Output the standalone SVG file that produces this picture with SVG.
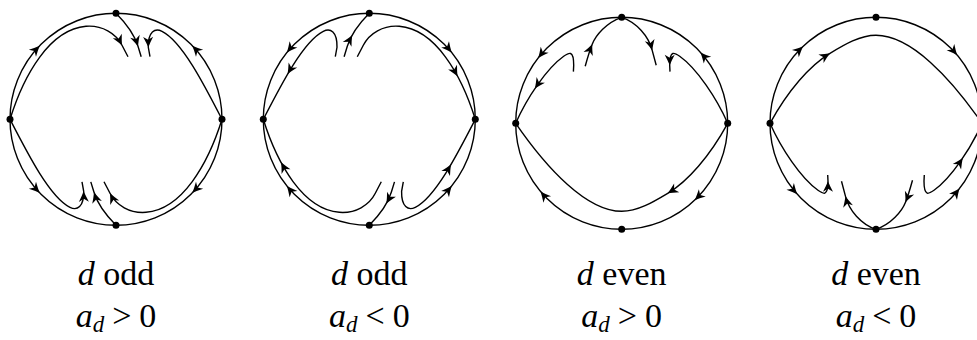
<svg xmlns="http://www.w3.org/2000/svg" xmlns:xlink="http://www.w3.org/1999/xlink" width="977" height="340" viewBox="0 0 977 340">
<style>
.ln{fill:none;stroke:#000;stroke-width:1.4}
.dot{fill:#000}
.lbl{font-family:"Liberation Serif","DejaVu Serif",serif;font-size:34px;fill:#000;text-anchor:middle}
.it{font-style:italic}
</style>
<defs>
<path id="ah" d="M0,0 Q-4.5,-1.8 -10.5,-5 L-7.5,0 L-10.5,5 Q-4.5,1.8 0,0 Z" fill="#000"/>
<g id="c1curves" class="ln">
<path d="M-106 0C-92 -45 -66 -90 -30 -93C-14 -94.3 0 -86 6 -74L12 -62.5"/>
<path d="M0 -106C9 -97 18 -86 22 -73L25.2 -62.6"/>
<path d="M106 0C88 -35 66 -78 46 -88C39 -91.5 32 -88 32.3 -72L34 -62.6"/>
</g>
<g id="c1top">
<use xlink:href="#c1curves" href="#c1curves"/>
<use xlink:href="#ah" href="#ah" transform="translate(6 -74) rotate(63.4)"/>
<use xlink:href="#ah" href="#ah" transform="translate(22 -73) rotate(73)"/>
<use xlink:href="#ah" href="#ah" transform="translate(32.3 -72) rotate(89)"/>
<use xlink:href="#ah" href="#ah" transform="translate(-76.3 -73.6) rotate(-46)"/>
<use xlink:href="#ah" href="#ah" transform="translate(76.3 -73.6) rotate(-134)"/>
</g>
<g id="c2top">
<use xlink:href="#c1curves" href="#c1curves" transform="scale(-1 1)"/>
<use xlink:href="#ah" href="#ah" transform="translate(-81.7 -45.2) rotate(120.5)"/>
<use xlink:href="#ah" href="#ah" transform="translate(-17.1 -84.1) rotate(-61)"/>
<use xlink:href="#ah" href="#ah" transform="translate(88.2 -43) rotate(62)"/>
<use xlink:href="#ah" href="#ah" transform="translate(-82.4 -66.7) rotate(129)"/>
<use xlink:href="#ah" href="#ah" transform="translate(82.4 -66.7) rotate(51)"/>
</g>
<g id="c3">
<g class="ln">
<path d="M-106 0C-95 -25 -75 -55 -58 -67C-53 -70.5 -48 -74 -48 -58L-48.3 -51.7"/>
<path d="M-36.5 -57C-34 -66 -32 -73 -29.5 -79C-26 -88 -15 -101 0 -106"/>
<path d="M0 -106C15 -101 27 -87 30.5 -73L34.5 -58"/>
<path d="M106 0C95 -25 75 -55 58 -67C53 -70.5 48 -74 48 -58L48.3 -51.7"/>
<path d="M106 0C88 33 66 58 46 70C31 79 16 88 0 88C-35 88 -75 45 -106 0"/>
</g>
<use xlink:href="#ah" href="#ah" transform="translate(-86.8 -34.7) rotate(124)"/>
<use xlink:href="#ah" href="#ah" transform="translate(-29.5 -79) rotate(-67.4)"/>
<use xlink:href="#ah" href="#ah" transform="translate(30.5 -73) rotate(76)"/>
<use xlink:href="#ah" href="#ah" transform="translate(48 -58) rotate(90)"/>
<use xlink:href="#ah" href="#ah" transform="translate(46 70) rotate(149)"/>
<use xlink:href="#ah" href="#ah" transform="translate(-83.5 -65.3) rotate(128)"/>
<use xlink:href="#ah" href="#ah" transform="translate(78.8 -70.9) rotate(-132)"/>
<use xlink:href="#ah" href="#ah" transform="translate(-81.2 68.1) rotate(230)"/>
<use xlink:href="#ah" href="#ah" transform="translate(73 76.9) rotate(136.5)"/>
</g>
</defs>
<rect width="977" height="340" fill="#fff"/>
<g id="connectors">
<g id="diagram1-edges" transform="translate(116 119.3)">
<circle class="ln" r="106"/>
<use xlink:href="#c1top" href="#c1top"/>
<use xlink:href="#c1top" href="#c1top" transform="rotate(180)"/>
</g>
<g id="diagram2-edges" transform="translate(369.3 119.3)">
<circle class="ln" r="106"/>
<use xlink:href="#c2top" href="#c2top"/>
<use xlink:href="#c2top" href="#c2top" transform="rotate(180)"/>
</g>
<g id="diagram3-edges" transform="translate(621.7 123.3)">
<circle class="ln" r="106"/>
<use xlink:href="#c3" href="#c3"/>
</g>
<g id="diagram4-edges" transform="translate(876 123.3)">
<circle class="ln" r="106"/>
<use xlink:href="#c3" href="#c3" transform="rotate(180)"/>
</g>
</g>
<g id="nodes">
<g id="n1-top"><circle class="dot" cx="116" cy="13.3" r="3.5"/></g>
<g id="n1-left"><circle class="dot" cx="10" cy="119.3" r="3.5"/></g>
<g id="n1-right"><circle class="dot" cx="222" cy="119.3" r="3.5"/></g>
<g id="n1-bottom"><circle class="dot" cx="116" cy="225.3" r="3.5"/></g>
<g id="n2-top"><circle class="dot" cx="369.3" cy="13.3" r="3.5"/></g>
<g id="n2-left"><circle class="dot" cx="263.3" cy="119.3" r="3.5"/></g>
<g id="n2-right"><circle class="dot" cx="475.3" cy="119.3" r="3.5"/></g>
<g id="n2-bottom"><circle class="dot" cx="369.3" cy="225.3" r="3.5"/></g>
<g id="n3-top"><circle class="dot" cx="621.7" cy="17.3" r="3.5"/></g>
<g id="n3-left"><circle class="dot" cx="515.7" cy="123.3" r="3.5"/></g>
<g id="n3-right"><circle class="dot" cx="727.7" cy="123.3" r="3.5"/></g>
<g id="n3-bottom"><circle class="dot" cx="621.7" cy="229.3" r="3.5"/></g>
<g id="n4-top"><circle class="dot" cx="876" cy="17.3" r="3.5"/></g>
<g id="n4-left"><circle class="dot" cx="770" cy="123.3" r="3.5"/></g>
<g id="n4-right"><circle class="dot" cx="982" cy="123.3" r="3.5"/></g>
<g id="n4-bottom"><circle class="dot" cx="876" cy="229.3" r="3.5"/></g>
</g>
<g id="labels">
<text class="lbl" x="116" y="285"><tspan class="it">d</tspan> odd</text>
<text class="lbl" x="116" y="327"><tspan class="it">a</tspan><tspan class="it" font-size="23" dy="5">d</tspan><tspan dy="-5" dx="8">&gt;</tspan><tspan dx="8">0</tspan></text>
<text class="lbl" x="369.3" y="285"><tspan class="it">d</tspan> odd</text>
<text class="lbl" x="369.3" y="327"><tspan class="it">a</tspan><tspan class="it" font-size="23" dy="5">d</tspan><tspan dy="-5" dx="8">&lt;</tspan><tspan dx="8">0</tspan></text>
<text class="lbl" x="621.7" y="285"><tspan class="it">d</tspan> even</text>
<text class="lbl" x="621.7" y="327"><tspan class="it">a</tspan><tspan class="it" font-size="23" dy="5">d</tspan><tspan dy="-5" dx="8">&gt;</tspan><tspan dx="8">0</tspan></text>
<text class="lbl" x="876" y="285"><tspan class="it">d</tspan> even</text>
<text class="lbl" x="876" y="327"><tspan class="it">a</tspan><tspan class="it" font-size="23" dy="5">d</tspan><tspan dy="-5" dx="8">&lt;</tspan><tspan dx="8">0</tspan></text>
</g>
</svg>
